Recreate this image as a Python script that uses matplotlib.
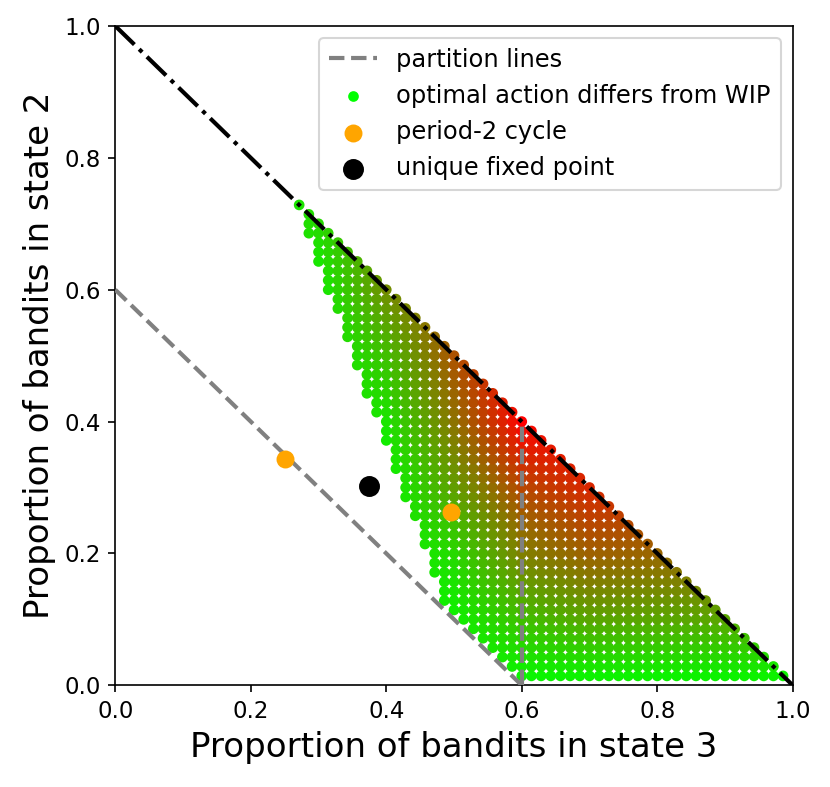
import matplotlib
matplotlib.use("Agg")
import matplotlib.pyplot as plt
import numpy as np

# lattice step (points sit at multiples of 1/70)
N = 70
# leftmost column index for each row j = 1..51 (right end is the line x + y = 1)
left_edge = [42, 41, 40, 39, 38, 37, 36, 35, 34, 34, 34, 33, 33, 33, 32, 32, 32,
             31, 31, 30, 30, 30, 29, 29, 29, 28, 28, 28, 27, 27, 26, 26, 26, 25,
             25, 25, 24, 24, 24, 23, 23, 22, 22, 22, 21, 21, 21, 20, 20, 20, 19]

# redness at coarse anchors (rows: y, cols: x)
anchor_x = [0.2, 0.3, 0.4, 0.5, 0.6, 0.7, 0.8, 0.9, 1.0]
anchor_y = [0.0, 0.1, 0.2, 0.3, 0.4, 0.5, 0.6, 0.7, 0.8]
redness = [
    [0.0, 0.0, 0.0, 0.0, 0.0, 0.0, 0.0, 0.0, 0.0],
    [0.0, 0.0, 0.0, 0.05, 0.25, 0.35, 0.35, 0.35, 0.35],
    [0.0, 0.0, 0.0, 0.15, 0.5, 0.62, 0.6, 0.6, 0.6],
    [0.0, 0.0, 0.0, 0.38, 0.72, 0.85, 0.85, 0.85, 0.85],
    [0.0, 0.0, 0.1, 0.55, 1.0, 1.0, 1.0, 1.0, 1.0],
    [0.0, 0.0, 0.25, 0.68, 1.0, 1.0, 1.0, 1.0, 1.0],
    [0.0, 0.05, 0.45, 0.68, 0.68, 0.68, 0.68, 0.68, 0.68],
    [0.0, 0.15, 0.45, 0.45, 0.45, 0.45, 0.45, 0.45, 0.45],
    [0.0, 0.15, 0.15, 0.15, 0.15, 0.15, 0.15, 0.15, 0.15],
]

cycle_x = [0.251, 0.495]
cycle_y = [0.343, 0.263]
fixed_x = [0.375]
fixed_y = [0.302]


def lookup(px, py):
    # bilinear weighting between the anchors
    ax = np.array(anchor_x)
    ay = np.array(anchor_y)
    tab = np.array(redness)
    i = np.clip(np.searchsorted(ax, px) - 1, 0, len(ax) - 2)
    j = np.clip(np.searchsorted(ay, py) - 1, 0, len(ay) - 2)
    tx = (px - ax[i]) / (ax[i + 1] - ax[i])
    ty = (py - ay[j]) / (ay[j + 1] - ay[j])
    return ((1 - tx) * (1 - ty) * tab[j, i] + tx * (1 - ty) * tab[j, i + 1]
            + (1 - tx) * ty * tab[j + 1, i] + tx * ty * tab[j + 1, i + 1])


xs, ys = [], []
for j, lo in enumerate(left_edge, start=1):
    for i in range(lo, N - j + 1):
        xs.append(i / N)
        ys.append(j / N)
xs = np.array(xs)
ys = np.array(ys)
r = np.clip(lookup(xs, ys), 0, 1)
cols = np.column_stack([r, 1 - r, np.zeros_like(r)])

fig = plt.figure(figsize=(830 / 150, 787 / 150), dpi=150)
ax = fig.add_axes([0.1389, 0.1292, 0.8162, 0.8378])

ax.scatter(xs, ys, c=cols, s=17, zorder=2)
ax.scatter([], [], color=(0, 1, 0), s=17, label='optimal action differs from WIP')

ax.plot([0, 0.6], [0.6, 0], '--', color='gray', lw=2, zorder=3, label='partition lines')
ax.plot([0.6, 0.6], [0, 0.4], '--', color='gray', lw=2, zorder=3)
ax.plot([0, 1], [1, 0], '-.', color='black', lw=2, zorder=3)

ax.scatter(cycle_x, cycle_y, color='orange', s=58, zorder=4, label='period-2 cycle')
ax.scatter(fixed_x, fixed_y, color='black', s=82, zorder=4, label='unique fixed point')

ax.set_xlim(0, 1)
ax.set_ylim(0, 1)
ax.tick_params(labelsize=11)
ax.set_xlabel('Proportion of bandits in state 3', fontsize=16.3)
ax.set_ylabel('Proportion of bandits in state 2', fontsize=16.3)

h, l = ax.get_legend_handles_labels()
order = [l.index('partition lines'), l.index('optimal action differs from WIP'),
         l.index('period-2 cycle'), l.index('unique fixed point')]
ax.legend([h[k] for k in order], [l[k] for k in order], loc='upper right', fontsize=11.6)

fig.savefig('out.png', dpi=150)
